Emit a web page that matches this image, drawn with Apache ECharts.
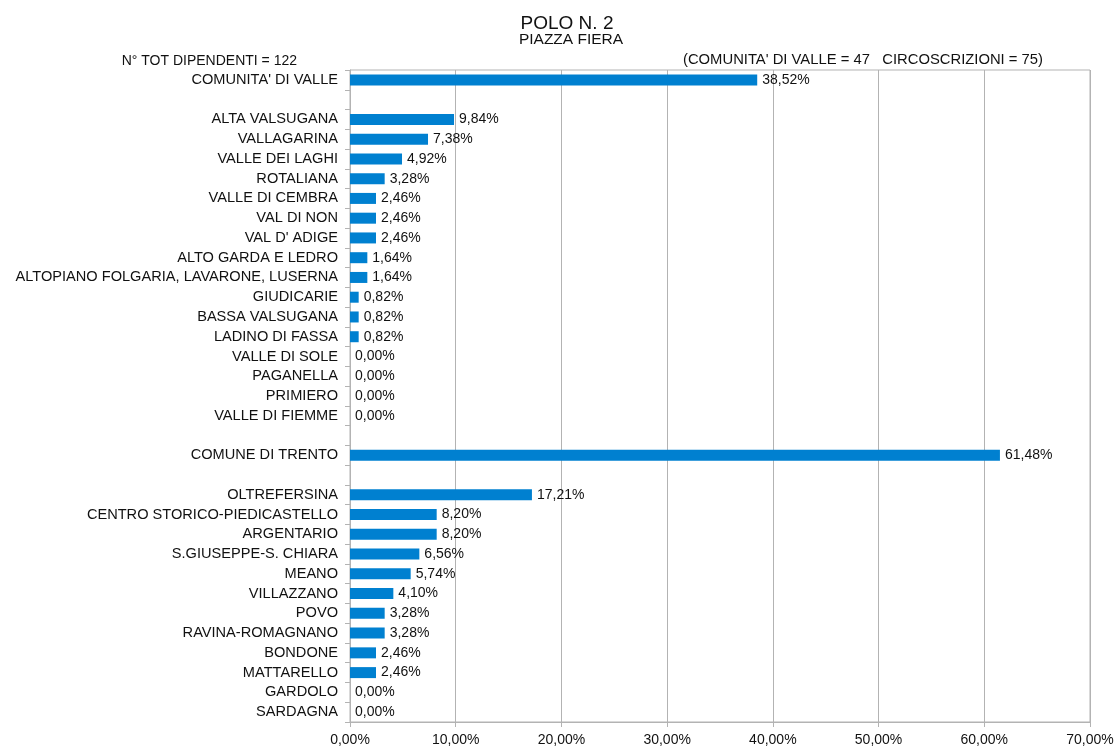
<!DOCTYPE html>
<html>
<head>
<meta charset="utf-8">
<script src="https://cdn.jsdelivr.net/npm/echarts@6/dist/echarts.min.js"></script>
<style>
  html, body { margin: 0; padding: 0; background: #fff; }
  #main { width: 1117px; height: 749px; }
</style>
</head>
<body>
<div id="main"></div>
<script>
// categories top to bottom, blank rows are spacers
var categories = [
  "COMUNITA' DI VALLE", ' ',
  'ALTA VALSUGANA', 'VALLAGARINA', 'VALLE DEI LAGHI', 'ROTALIANA',
  'VALLE DI CEMBRA', 'VAL DI NON', "VAL D' ADIGE", 'ALTO GARDA E LEDRO',
  'ALTOPIANO FOLGARIA, LAVARONE, LUSERNA', 'GIUDICARIE', 'BASSA VALSUGANA',
  'LADINO DI FASSA', 'VALLE DI SOLE', 'PAGANELLA', 'PRIMIERO', 'VALLE DI FIEMME',
  '  ',
  'COMUNE DI TRENTO', '   ',
  'OLTREFERSINA', 'CENTRO STORICO-PIEDICASTELLO', 'ARGENTARIO',
  'S.GIUSEPPE-S. CHIARA', 'MEANO', 'VILLAZZANO', 'POVO', 'RAVINA-ROMAGNANO',
  'BONDONE', 'MATTARELLO', 'GARDOLO', 'SARDAGNA'
];
var percents = [
  38.52, null,
  9.84, 7.38, 4.92, 3.28,
  2.46, 2.46, 2.46, 1.64,
  1.64, 0.82, 0.82,
  0.82, 0.00, 0.00, 0.00, 0.00,
  null,
  61.48, null,
  17.21, 8.20, 8.20,
  6.56, 5.74, 4.10, 3.28, 3.28,
  2.46, 2.46, 0.00, 0.00
];
var xTicks = [0, 10, 20, 30, 40, 50, 60, 70];

function fmt(v) {
  return v.toFixed(2).replace('.', ',') + '%';
}

var font = 'Liberation Sans, Arial, sans-serif';
var chart = echarts.init(document.getElementById('main'));

chart.setOption({
  animation: false,
  backgroundColor: '#fff',
  textStyle: { fontFamily: font },
  title: [
    {
      text: 'POLO N. 2',
      left: 562, top: 9, textAlign: 'center',
      textStyle: { fontSize: 19, fontWeight: 'normal', color: '#111', fontFamily: font }
    },
    {
      text: 'PIAZZA FIERA',
      left: 566, top: 27, textAlign: 'center',
      textStyle: { fontSize: 15.5, fontWeight: 'normal', color: '#111', fontFamily: font }
    },
    {
      text: 'N° TOT DIPENDENTI = 122',
      left: 292, top: 49, textAlign: 'right',
      textStyle: { fontSize: 14, fontWeight: 'normal', color: '#111', fontFamily: font }
    },
    {
      text: "(COMUNITA' DI VALLE = 47   CIRCOSCRIZIONI = 75)",
      left: 678, top: 47,
      textStyle: { fontSize: 14.8, fontWeight: 'normal', color: '#111', fontFamily: font }
    }
  ],
  grid: {
    left: 350, right: 27, top: 70, bottom: 27,
    show: true, borderColor: '#b3b3b3', borderWidth: 1
  },
  xAxis: {
    type: 'value',
    min: xTicks[0], max: xTicks[xTicks.length - 1], interval: 10,
    axisLine: { show: true, lineStyle: { color: '#b3b3b3' } },
    axisTick: { show: true, length: 5, lineStyle: { color: '#b3b3b3' } },
    splitLine: { show: true, lineStyle: { color: '#b3b3b3' } },
    axisLabel: {
      margin: 11, fontSize: 14, color: '#111',
      formatter: function (v) { return fmt(v); }
    }
  },
  yAxis: {
    type: 'category',
    inverse: true,
    data: categories,
    axisLine: { show: true, lineStyle: { color: '#b3b3b3' } },
    axisTick: { show: true, length: 5, interval: 0, lineStyle: { color: '#b3b3b3' } },
    axisLabel: { interval: 0, margin: 12, fontSize: 14.6, color: '#111' }
  },
  series: [{
    type: 'bar',
    data: percents,
    barWidth: 11,
    itemStyle: { color: '#0080d0' },
    label: {
      show: true, position: 'right', distance: 5,
      fontSize: 14, color: '#111',
      formatter: function (p) { return p.value == null ? '' : fmt(p.value); }
    }
  }]
});
</script>
</body>
</html>
